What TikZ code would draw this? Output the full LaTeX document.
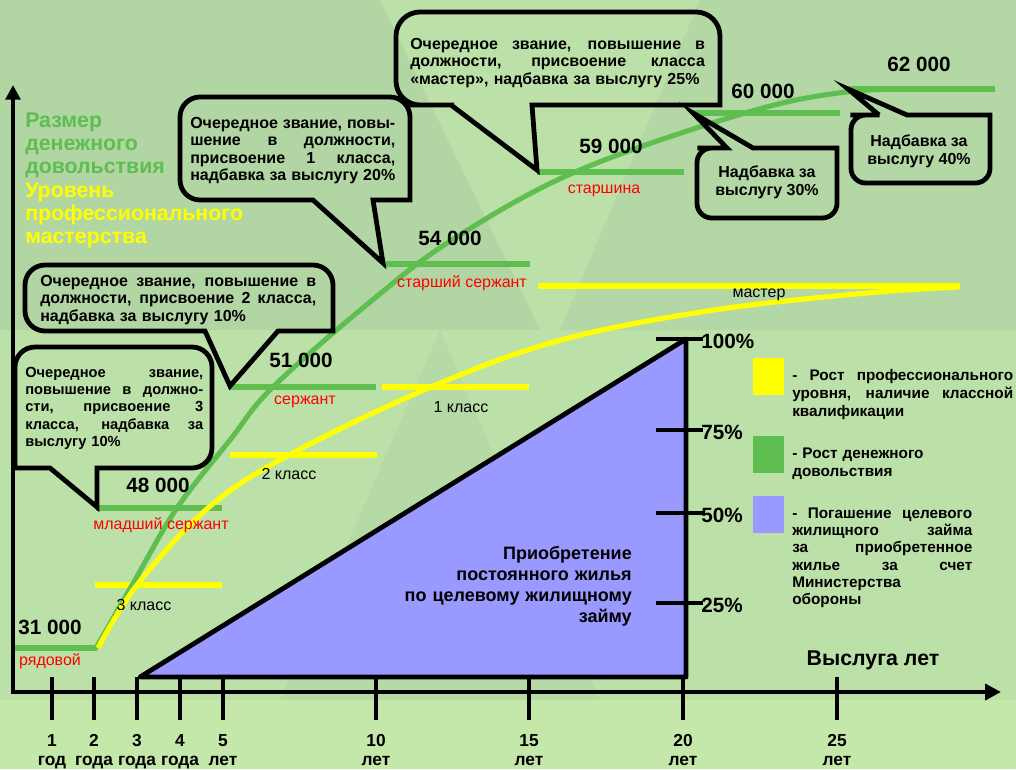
\documentclass[tikz,border=0pt]{standalone}
\usepackage{fontspec}
\setmainfont{Liberation Sans}
\usetikzlibrary{arrows.meta}

\definecolor{bgGreen}{RGB}{188,225,168}
\definecolor{shadeGreen}{RGB}{166,200,160}
\definecolor{paleGreen}{RGB}{196,232,170}
\definecolor{payGreen}{RGB}{94,190,80}
\definecolor{skillYellow}{RGB}{255,255,0}
\definecolor{loanBlue}{RGB}{153,153,255}
\definecolor{rankRed}{RGB}{255,0,0}

\newcommand{\fsz}[2]{\fontsize{#1}{#2}\selectfont}
% justified line of given width
\newcommand{\jline}[2]{\leavevmode\hbox to #1{\spaceskip=0.28em plus 1fil\relax#2}}

\begin{document}
\begin{tikzpicture}[x=0.75pt,y=0.75pt,yscale=-1,xscale=1,
    axisline/.style={line width=3pt},
    yeartick/.style={line width=3pt},
    paystep/.style={draw=payGreen,line width=4.5pt},
    skillstep/.style={draw=skillYellow,line width=4.5pt},
    paycurve/.style={draw=payGreen,line width=3.8pt},
    skillcurve/.style={draw=skillYellow,line width=3.8pt},
    bubble/.style={draw=black,line width=3.6pt},
    bubbletext/.style={anchor=base west,inner sep=0pt,font=\bfseries\fsz{12}{13.2}},
    salary/.style={inner sep=0pt,font=\bfseries\fsz{15.5}{18}},
    ranklbl/.style={inner sep=0pt,text=rankRed,font=\fsz{12}{14}},
    gradelbl/.style={inner sep=0pt,font=\fsz{12}{14}},
    yearlbl/.style={anchor=base,inner sep=0pt,font=\bfseries\fsz{13}{15}},
    pctlbl/.style={anchor=west,inner sep=0pt,font=\bfseries\fsz{15.5}{18}},
    legendtext/.style={anchor=base west,inner sep=0pt,font=\bfseries\fsz{11.5}{13.5}}
]
\useasboundingbox (0,0) rectangle (1016,769);

%Background
\fill[bgGreen] (0,0) rectangle (1016,769);
\fill[shadeGreen,opacity=0.45] (0,0) -- (380,0) -- (540,330) -- (0,330) -- cycle;
\fill[shadeGreen,opacity=0.35] (700,0) -- (1016,0) -- (1016,330) -- (560,330) -- cycle;
\fill[shadeGreen,opacity=0.25] (440,330) -- (600,700) -- (280,700) -- cycle;
\fill[paleGreen] (0,700) rectangle (1016,769);

%Shape: Triangle (housing loan)
\draw[line width=3.6pt,fill=loanBlue,line join=round] (140,677) -- (686,677) -- (686,339) -- cycle;

% Text Node
\node[anchor=base east,inner sep=0pt,text width=187.5pt,align=right,font=\bfseries\fsz{13.5}{15.8}] (loantext) at (632,559) {Приобретение\\постоянного жилья\\по целевому жилищному\\займу};

%Percentage ticks
\foreach \y/\p in {339/100,430/75,513/50,603/25}{
  \draw[yeartick] (656,\y) -- (703,\y);
  \node[pctlbl] (pct\p) at (701,\y+2) {\p\%};
}

%Axes
\coordinate (origin) at (13,692);
\coordinate (ytop) at (13,85);
\coordinate (xend) at (1001,692);
\draw[axisline,{Triangle[length=11pt,width=11pt]}-{Triangle[length=12pt,width=12pt]}] (ytop) -- (origin) -- (xend);

%Year ticks and labels
\foreach \x/\n/\w [count=\i] in {52/1/год,94/2/года,137/3/года,180/4/года,223/5/лет,376/10/лет,529/15/лет,683/20/лет,837/25/лет}{
  \draw[yeartick] (\x,677) -- (\x,720);
  \node[yearlbl] (num\i) at (\x,746) {\n};
  \node[yearlbl] (word\i) at (\x,765) {\w};
}

% Text Node
\node[inner sep=0pt,font=\bfseries\fsz{16}{18}] (service) at (873,660) {Выслуга лет};

%Yellow steps
\draw[skillstep] (95,585) -- (222,585);
\draw[skillstep] (230,455) -- (377,455);
\draw[skillstep] (382,387) -- (529,387);
\draw[skillstep] (538,286) -- (960,286);

%Green steps
\draw[paystep] (15,648) -- (97,648);
\draw[paystep] (96,508) -- (222,508);
\draw[paystep] (230,387) -- (376,387);
\draw[paystep] (383,264) -- (530,264);
\draw[paystep] (537,172) -- (684,172);
\draw[paystep] (693,113) -- (840,113);
\draw[paystep] (848,89) -- (995,89);

%Curves
\draw[paycurve] plot[smooth,tension=0.6] coordinates {(96,648) (135,580) (177,508) (230,440) (273,387) (370,302) (452,240) (575,172) (745,113) (846,92) (930,89)};
\draw[skillcurve] plot[smooth,tension=0.6] coordinates {(98,648) (137,585) (208,508) (289,455) (431,387) (561,340) (714,310) (867,293) (959,287)};

% Text Node
\node[salary] (pay31) at (50,627) {31 000};
\node[salary] (pay48) at (158,485) {48 000};
\node[salary] (pay51) at (301,360) {51 000};
\node[salary] (pay54) at (450,238) {54 000};
\node[salary] (pay59) at (611,146) {59 000};
\node[salary] (pay60) at (763,91) {60 000};
\node[salary] (pay62) at (919,64) {62 000};

% Text Node
\node[ranklbl] (rankPvt) at (50,661) {рядовой};
\node[ranklbl] (rankJSgt) at (161,525) {младший сержант};
\node[ranklbl] (rankSgt) at (305,402) {сержант};
\node[ranklbl] (rankSSgt) at (462,283) {старший сержант};
\node[ranklbl] (rankPO) at (604,191) {старшина};

% Text Node
\node[gradelbl] (grade3) at (144,605) {3 класс};
\node[gradelbl] (grade2) at (289,474) {2 класс};
\node[gradelbl] (grade1) at (461,407) {1 класс};
\node[gradelbl] (gradeM) at (759,295) {мастер};

%Y axis title
\node[anchor=base west,inner sep=0pt,text width=187.5pt,align=left,text=payGreen,font=\bfseries\fsz{16}{17.5}] (ytitlepay) at (25,127) {Размер\\денежного\\довольствия};
\node[anchor=base west,inner sep=0pt,text width=187.5pt,align=left,text=skillYellow,font=\bfseries\fsz{16}{17.5}] (ytitleskill) at (25,197) {Уровень\\профессионального\\мастерства};

%Shape: Callout (3 class)
\draw[bubble] (97,468) -- (97,507) -- (50,468) -- (15,468) [rounded corners=15pt] -- (15,347) -- (212,347) -- (212,468) -- (120,468) [sharp corners] -- cycle;
\node[bubbletext,text width=133.5pt,font=\bfseries\fsz{11}{13.1}] (callout3) at (25,377) {\jline{133.5pt}{Очередное звание,}\\\jline{133.5pt}{повышение в должно-}\\\jline{133.5pt}{сти, присвоение 3}\\\jline{133.5pt}{класса, надбавка за}\\выслугу 10\%};

%Shape: Callout (2 class)
\draw[bubble] (205,331) -- (230,386) -- (278,331) -- (333,331) [rounded corners=15pt] -- (333,265) -- (25,265) -- (25,331) -- (180,331) [sharp corners] -- cycle;
\node[bubbletext,text width=207pt] (callout2) at (40,286) {\jline{207pt}{Очередное звание, повышение в}\\\jline{207pt}{должности, присвоение 2 класса,}\\надбавка за выслугу 10\%};

%Shape: Callout (1 class)
\draw[bubble] (313,200) -- (383,263) -- (373,200) -- (410,200) [rounded corners=15pt] -- (410,97) -- (180,97) -- (180,200) -- (290,200) [sharp corners] -- cycle;
\node[bubbletext,text width=153.75pt] (callout1) at (190,128) {\jline{153.75pt}{Очередное звание, повы-}\\\jline{153.75pt}{шение в должности,}\\\jline{153.75pt}{присвоение 1 класса,}\\\jline{153.75pt}{надбавка за выслугу 20\%}};

%Shape: Callout (master)
\draw[bubble] (451,105) -- (537,170) -- (532,105) -- (720,105) [rounded corners=18pt] -- (720,12) -- (396,12) -- (396,105) -- (430,105) [sharp corners] -- cycle;
\node[bubbletext,text width=221pt] (calloutM) at (410,49) {\jline{221pt}{Очередное звание, повышение в}\\\jline{221pt}{должности, присвоение класса}\\«мастер», надбавка за выслугу 25\%};

%Shape: Callout (30%)
\draw[bubble] (727,148) -- (693,113) -- (753,148) -- (837,148) [rounded corners=11pt] -- (837,218) -- (697,218) -- (697,148) -- (712,148) [sharp corners] -- cycle;
\node[inner sep=0pt,align=center,font=\bfseries\fsz{12}{13.5}] (bonus30) at (767,182) {Надбавка за\\выслугу 30\%};

%Shape: Callout (40%)
\draw[bubble] (879,115) -- (848,89) -- (907,115) -- (990,115) [rounded corners=11pt] -- (990,183) -- (851,183) -- (851,115) -- (865,115) [sharp corners] -- cycle;
\node[inner sep=0pt,align=center,font=\bfseries\fsz{12}{13.5}] (bonus40) at (919,151) {Надбавка за\\выслугу 40\%};

%Legend
\fill[skillYellow] (753,358) rectangle (784,395);
\fill[payGreen] (753,436) rectangle (784,473);
\fill[loanBlue] (753,496) rectangle (784,533);
\node[legendtext,text width=165.75pt] (legskill) at (792,380) {\jline{165.75pt}{- Рост профессионального}\\\jline{165.75pt}{уровня, наличие классной}\\квалификации};
\node[legendtext,text width=165.75pt] (legpay) at (792,458) {- Рост денежного\\довольствия};
\node[legendtext,text width=135pt,font=\bfseries\fsz{11.5}{13}] (legloan) at (792,518) {\jline{135pt}{- Погашение целевого}\\\jline{135pt}{жилищного займа}\\\jline{135pt}{за приобретенное}\\\jline{135pt}{жилье за счет}\\Министерства\\обороны};

\end{tikzpicture}
\end{document}
